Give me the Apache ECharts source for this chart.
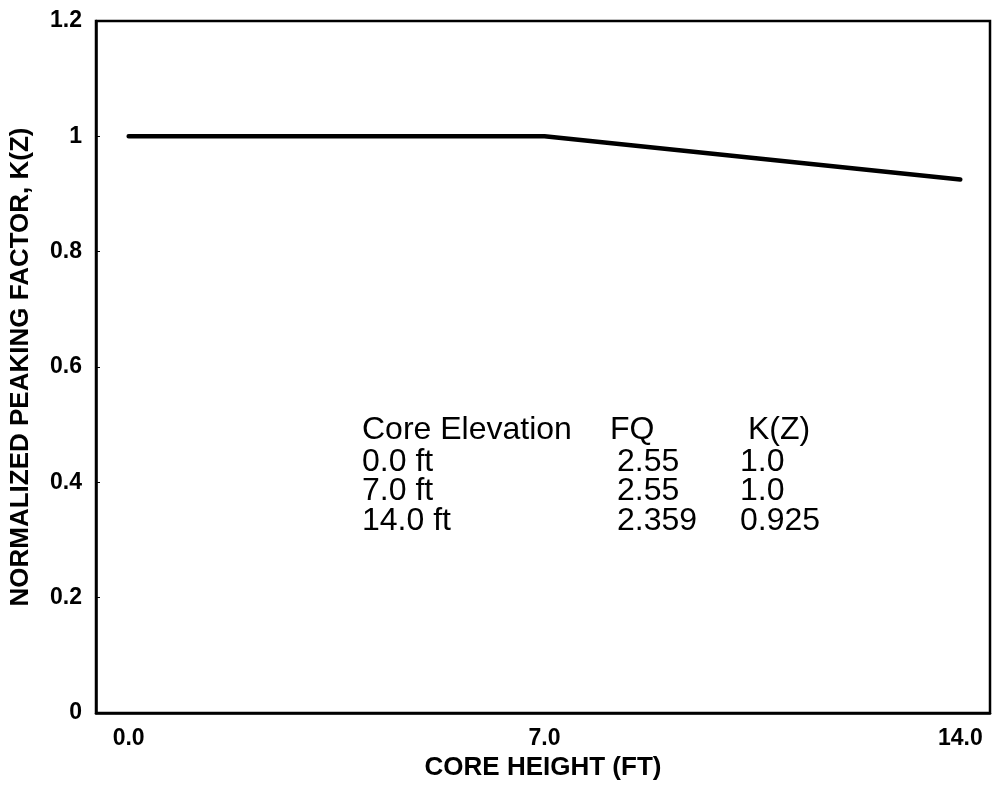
<!DOCTYPE html>
<html>
<head>
<meta charset="utf-8">
<script src="https://cdn.jsdelivr.net/npm/echarts@6/dist/echarts.min.js"></script>
<style>
html,body{margin:0;padding:0;background:#fff;}
#chart{width:994px;height:786px;}
</style>
</head>
<body>
<div id="chart"></div>
<script>
// Data
var coreHeights = [0, 7, 14];
var kzValues = [1.0, 1.0, 0.925];
var xTickValues = [0, 7, 14];
var xTickLabels = ['0.0', '7.0', '14.0'];
var tableHeader = ['Core Elevation', 'FQ', 'K(Z)'];
var tableElevations = ['0.0 ft', '7.0 ft', '14.0 ft'];
var tableFQ = ['2.55', '2.55', '2.359'];
var tableKZ = ['1.0', '1.0', '0.925'];

var chart = echarts.init(document.getElementById('chart'));
var font = 'Liberation Sans, Arial, sans-serif';

var graphics = [];
var headerX = [362, 610, 748];
var valueX = [362, 617, 740];
var rowY = [430, 462, 491, 521];
function addText(t, x, y) {
  graphics.push({
    type: 'text', x: x, y: y,
    style: { text: t, font: '32px ' + font, fill: '#000', verticalAlign: 'middle', align: 'left' }
  });
}
tableHeader.forEach(function (t, ci) { addText(t, headerX[ci], rowY[0]); });
for (var i = 0; i < tableElevations.length; i++) {
  addText(tableElevations[i], valueX[0], rowY[i + 1]);
  addText(tableFQ[i], valueX[1], rowY[i + 1]);
  addText(tableKZ[i], valueX[2], rowY[i + 1]);
}

var option = {
  backgroundColor: '#fff',
  animation: false,
  grid: {
    left: 95, right: 4, top: 21, bottom: 73,
    show: true, borderColor: '#000', borderWidth: 2.5, backgroundColor: 'transparent'
  },
  xAxis: {
    type: 'value',
    min: -0.55, max: 14.5,
    name: 'CORE HEIGHT (FT)',
    nameLocation: 'middle',
    nameGap: 36,
    nameTextStyle: { fontFamily: font, fontWeight: 'bold', fontSize: 26, color: '#000' },
    axisLine: { show: true, onZero: false, lineStyle: { color: '#000', width: 2.5 } },
    axisTick: { show: false },
    splitLine: { show: false },
    axisLabel: {
      customValues: xTickValues,
      formatter: function (v) {
        var idx = xTickValues.indexOf(v);
        return idx >= 0 ? xTickLabels[idx] : '';
      },
      margin: 14,
      fontFamily: font, fontWeight: 'bold', fontSize: 23, color: '#000'
    }
  },
  yAxis: {
    type: 'value',
    min: 0, max: 1.2, interval: 0.2,
    name: 'NORMALIZED PEAKING FACTOR, K(Z)',
    nameLocation: 'middle',
    nameGap: 62,
    nameTextStyle: { fontFamily: font, fontWeight: 'bold', fontSize: 26, color: '#000' },
    axisLine: { show: true, onZero: false, lineStyle: { color: '#000', width: 2.5 } },
    axisTick: { show: true, inside: true, length: 4, lineStyle: { color: '#000', width: 1 } },
    splitLine: { show: false },
    axisLabel: {
      margin: 14,
      formatter: function (v) { return String(Math.round(v * 10) / 10); },
      fontFamily: font, fontWeight: 'bold', fontSize: 23, color: '#000'
    }
  },
  series: [{
    type: 'line',
    data: coreHeights.map(function (h, i) { return [h, kzValues[i]]; }),
    showSymbol: false,
    lineStyle: { color: '#000', width: 4.5, cap: 'round' },
    z: 3
  }],
  graphic: graphics
};
chart.setOption(option);
</script>
</body>
</html>
